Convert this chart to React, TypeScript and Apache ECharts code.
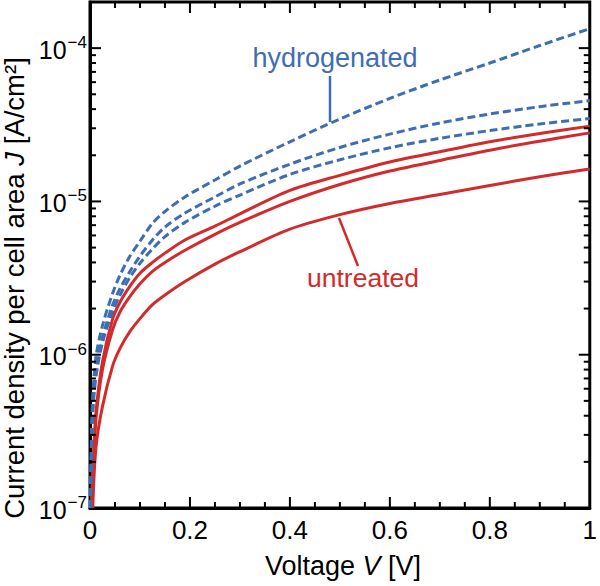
import React, { useEffect, useRef } from "react";
import * as echarts from "echarts";

// Voltage sample points (V)
const voltage = [0.002, 0.005, 0.012, 0.025, 0.045, 0.06, 0.08, 0.1, 0.125, 0.15, 0.19, 0.25, 0.3, 0.4, 0.5, 0.6, 0.7, 0.8, 0.9, 1.0];

// Hydrogenated samples (A/cm²)
const hydro1 = [2e-7, 5e-7, 9.7e-7, 1.55e-6, 2.5e-6, 3.3e-6, 4.4e-6, 5.5e-6, 7.2e-6, 8.6e-6, 1.07e-5, 1.38e-5, 1.7e-5, 2.45e-5, 3.45e-5, 4.7e-5, 6.2e-5, 8.0e-5, 1.04e-4, 1.34e-4];
const hydro2 = [1.7e-7, 4.3e-7, 8e-7, 1.3e-6, 2.1e-6, 2.7e-6, 3.5e-6, 4.4e-6, 5.6e-6, 6.8e-6, 8.4e-6, 1.07e-5, 1.3e-5, 1.75e-5, 2.25e-5, 2.75e-5, 3.25e-5, 3.72e-5, 4.15e-5, 4.55e-5];
const hydro3 = [1.5e-7, 3.9e-7, 7.2e-7, 1.2e-6, 1.9e-6, 2.45e-6, 3.2e-6, 3.95e-6, 4.9e-6, 5.9e-6, 7.3e-6, 9.3e-6, 1.1e-5, 1.5e-5, 1.87e-5, 2.24e-5, 2.58e-5, 2.9e-5, 3.2e-5, 3.47e-5];

// Untreated samples (A/cm²); null = below the 1e-7 floor
const untreated1 = [null, 1.6e-7, 4.2e-7, 9e-7, 1.7e-6, 2.2e-6, 2.8e-6, 3.4e-6, 4.0e-6, 4.6e-6, 5.6e-6, 6.9e-6, 8.3e-6, 1.18e-5, 1.48e-5, 1.81e-5, 2.11e-5, 2.45e-5, 2.77e-5, 3.1e-5];
const untreated2 = [null, 1.4e-7, 3.8e-7, 8e-7, 1.45e-6, 1.9e-6, 2.4e-6, 2.9e-6, 3.5e-6, 4.0e-6, 4.8e-6, 6.1e-6, 7.3e-6, 1.0e-5, 1.29e-5, 1.58e-5, 1.85e-5, 2.16e-5, 2.47e-5, 2.8e-5];
const untreated3 = [null, null, 2.5e-7, 4.6e-7, 8.4e-7, 1.1e-6, 1.42e-6, 1.72e-6, 2.12e-6, 2.45e-6, 3.0e-6, 3.9e-6, 4.7e-6, 6.6e-6, 8.2e-6, 9.7e-6, 1.11e-5, 1.27e-5, 1.45e-5, 1.63e-5];

// Voltage where each curve leaves the 1e-7 floor
const floorV = { hydro1: 0.0008, hydro2: 0.0009, hydro3: 0.001, untreated1: 0.0032, untreated2: 0.0036, untreated3: 0.0055 };

// Axis extents and tick positions
const X_MIN = 0;
const X_MAX = 1;
const Y_MIN = 1e-7;
const Y_MAX = 2e-4;
const xMajorTicks = [0.2, 0.4, 0.6, 0.8];
const xMinorTicks = [0.05, 0.1, 0.15, 0.25, 0.3, 0.35, 0.45, 0.5, 0.55, 0.65, 0.7, 0.75, 0.85, 0.9, 0.95];
const yMajorTicks = [1e-6, 1e-5, 1e-4];
const yMinorTicks = [
  2e-7, 3e-7, 4e-7, 5e-7, 6e-7, 7e-7, 8e-7, 9e-7,
  2e-6, 3e-6, 4e-6, 5e-6, 6e-6, 7e-6, 8e-6, 9e-6,
  2e-5, 3e-5, 4e-5, 5e-5, 6e-5, 7e-5, 8e-5, 9e-5,
];

const FONT = "Liberation Sans, Arial, Helvetica, sans-serif";
const BLUE = "#3F6DB4";
const RED = "#D22B2B";
const MAJOR_LEN = 11;
const MINOR_LEN = 6;

const seriesData = (ys: (number | null)[], v0: number) => {
  const out: number[][] = [[v0, Y_MIN]];
  voltage.forEach((v, i) => {
    const y = ys[i];
    if (y !== null && y !== undefined) out.push([v, y]);
  });
  return out;
};

export default function App() {
  const ref = useRef<HTMLDivElement>(null);
  useEffect(() => {
    document.body.style.margin = "0";
    const chart = echarts.init(ref.current!, null, { renderer: "svg" });
    const supMap: Record<string, string> = { "-4": "−4", "-5": "−5", "-6": "−6", "-7": "−7" };
    const yLabelFmt = (v: number) => {
      const e = Math.round(Math.log10(v));
      if (Math.abs(v / Math.pow(10, e) - 1) > 1e-6 || e > -4) return "";
      return "{b|10}{s|" + (supMap[String(e)] || String(e)) + "}";
    };
    const lineSeries = (data: number[][], color: string, dashed: boolean) => ({
      type: "line",
      data,
      showSymbol: false,
      symbol: "none",
      smooth: 0.3,
      clip: false,
      lineStyle: { color, width: 3, type: dashed ? [8, 4] : "solid" },
      z: 3,
    });
    const curveSeries = [
      lineSeries(seriesData(untreated1, floorV.untreated1), RED, false),
      lineSeries(seriesData(untreated2, floorV.untreated2), RED, false),
      lineSeries(seriesData(untreated3, floorV.untreated3), RED, false),
      lineSeries(seriesData(hydro1, floorV.hydro1), BLUE, true),
      lineSeries(seriesData(hydro2, floorV.hydro2), BLUE, true),
      lineSeries(seriesData(hydro3, floorV.hydro3), BLUE, true),
    ];
    chart.setOption({
      animation: false,
      grid: { left: 90, right: 4, top: 2, bottom: 78, show: true, borderColor: "#000", borderWidth: 3, backgroundColor: "transparent" },
      xAxis: {
        type: "value",
        min: X_MIN,
        max: X_MAX,
        interval: 0.2,
        splitLine: { show: false },
        axisLine: { show: true, lineStyle: { color: "#000", width: 3 } },
        axisTick: { show: false },
        axisLabel: {
          show: true,
          margin: 9,
          color: "#000",
          fontSize: 26,
          fontFamily: FONT,
          formatter: (v: number) => String(parseFloat(v.toFixed(1))),
        },
      },
      yAxis: {
        type: "log",
        min: Y_MIN,
        max: Y_MAX,
        splitLine: { show: false },
        axisLine: { show: true, lineStyle: { color: "#000", width: 3 } },
        axisTick: { show: false },
        axisLabel: {
          show: true,
          margin: 3,
          showMaxLabel: false,
          color: "#000",
          formatter: yLabelFmt,
          rich: {
            b: { fontSize: 25, fontFamily: FONT, color: "#000", lineHeight: 28, verticalAlign: "bottom" },
            s: { fontSize: 17, fontFamily: FONT, color: "#000", lineHeight: 28, verticalAlign: "top", padding: [0, 0, 0, 1] },
          },
        },
      },
      series: curveSeries,
      graphic: [
        {
          type: "text",
          x: 343,
          y: 566,
          style: {
            text: "Voltage {i|V} [V]",
            fontSize: 27,
            fontFamily: FONT,
            fill: "#000",
            align: "center",
            verticalAlign: "middle",
            rich: { i: { fontSize: 27, fontFamily: FONT, fontStyle: "italic", fill: "#000" } },
          },
        },
        {
          type: "text",
          x: 14,
          y: 288,
          rotation: Math.PI / 2,
          style: {
            text: "Current density per cell area {i|J} [A/cm²]",
            fontSize: 27.5,
            fontFamily: FONT,
            fill: "#000",
            align: "center",
            verticalAlign: "middle",
            rich: { i: { fontSize: 27.5, fontFamily: FONT, fontStyle: "italic", fill: "#000" } },
          },
        },
        {
          type: "text",
          x: 335,
          y: 58,
          style: { text: "hydrogenated", fontSize: 27, fontFamily: FONT, fill: BLUE, align: "center", verticalAlign: "middle" },
        },
        { type: "line", shape: { x1: 330, y1: 76, x2: 330, y2: 122 }, style: { stroke: BLUE, lineWidth: 2.5 } },
        {
          type: "text",
          x: 363,
          y: 278,
          style: { text: "untreated", fontSize: 26.5, fontFamily: FONT, fill: RED, align: "center", verticalAlign: "middle" },
        },
        { type: "line", shape: { x1: 339, y1: 218, x2: 358, y2: 266 }, style: { stroke: RED, lineWidth: 2.5 } },
      ],
    });

    // Tick marks as short line series; inner ends found through the chart's own scales
    const toPx = (pt: number[]) => chart.convertToPixel({ seriesIndex: 0 }, pt) as number[];
    const toData = (px: number[]) => chart.convertFromPixel({ seriesIndex: 0 }, px) as number[];
    const tickSeries: any[] = [];
    const addTick = (a: number[], b: number[]) => {
      tickSeries.push({
        type: "line",
        data: [a, b],
        showSymbol: false,
        symbol: "none",
        clip: false,
        silent: true,
        lineStyle: { color: "#000", width: 2 },
        z: 4,
      });
    };
    const xTick = (x: number, len: number) => {
      const pb = toPx([x, Y_MIN]);
      const qb = toData([pb[0], pb[1] - len]);
      addTick([x, Y_MIN], [x, qb[1]]);
      const pt = toPx([x, Y_MAX]);
      const qt = toData([pt[0], pt[1] + len]);
      addTick([x, Y_MAX], [x, qt[1]]);
    };
    const yTick = (y: number, len: number) => {
      const pl = toPx([X_MIN, y]);
      const ql = toData([pl[0] + len, pl[1]]);
      addTick([X_MIN, y], [ql[0], y]);
      const pr = toPx([X_MAX, y]);
      const qr = toData([pr[0] - len, pr[1]]);
      addTick([X_MAX, y], [qr[0], y]);
    };
    xMajorTicks.forEach((x) => xTick(x, MAJOR_LEN));
    xMinorTicks.forEach((x) => xTick(x, MINOR_LEN));
    yMajorTicks.forEach((y) => yTick(y, MAJOR_LEN));
    yMinorTicks.forEach((y) => yTick(y, MINOR_LEN));
    chart.setOption({ series: [...curveSeries, ...tickSeries] });

    return () => chart.dispose();
  }, []);
  return <div ref={ref} style={{ width: 600, height: 586 }} />;
}
